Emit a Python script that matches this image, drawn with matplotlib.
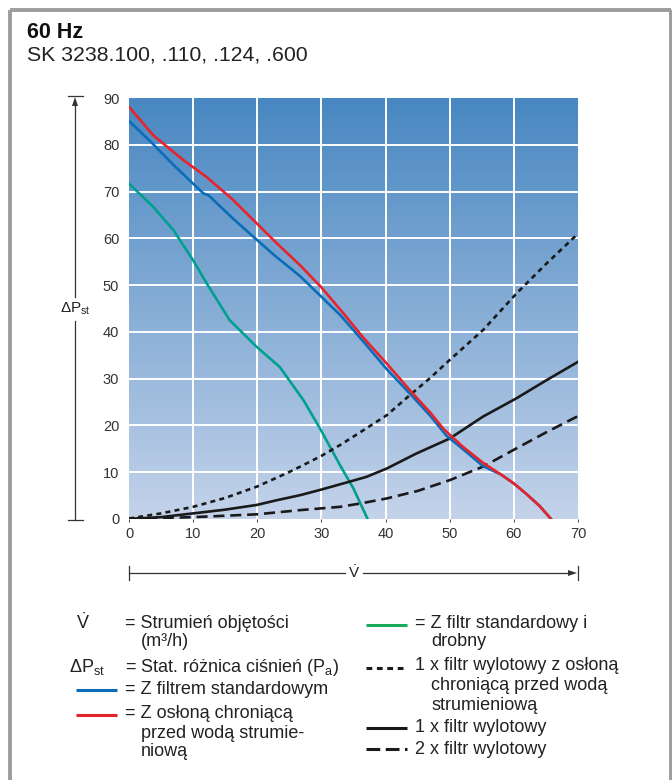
import numpy as np
import matplotlib
matplotlib.use("Agg")
import matplotlib.pyplot as plt
from matplotlib.lines import Line2D
from matplotlib.patches import Polygon

plt.rcParams['font.family'] = ['Liberation Sans', 'DejaVu Sans']
plt.rcParams['mathtext.fontset'] = 'custom'
plt.rcParams['mathtext.rm'] = 'Liberation Sans'
plt.rcParams['mathtext.it'] = 'Liberation Sans:italic'
plt.rcParams['mathtext.bf'] = 'Liberation Sans:bold'

# ---------------- data ----------------
title = "60 Hz"
subtitle = "SK 3238.100, .110, .124, .600"
x_ticks = [0, 10, 20, 30, 40, 50, 60, 70]
y_ticks = [0, 10, 20, 30, 40, 50, 60, 70, 80, 90]

blue_x = [0, 3.5, 7, 11.6, 12.4, 16, 19.4, 23, 26.6, 30, 33, 36.5, 40.2, 44, 47, 49.5, 52, 55.2, 58, 60, 62, 64, 65.8]
blue_y = [85.1, 80.5, 75.6, 69.6, 69.2, 64.5, 60.3, 56.0, 52.0, 47.5, 43.5, 38.0, 32.0, 26.5, 22.0, 17.8, 15.0, 11.3, 9.5, 7.6, 5.3, 2.8, 0]

red_x = [0, 3.8, 8.5, 12.1, 16, 19.4, 23, 26.7, 30, 33.4, 36.5, 40.2, 44, 47, 49, 52, 55.2, 58, 60, 62, 64, 65.8]
red_y = [88.1, 82.0, 76.7, 73.1, 68.5, 63.9, 59.0, 54.2, 49.5, 44.0, 38.8, 33.2, 27.2, 22.7, 19.3, 15.5, 12.0, 9.5, 7.6, 5.3, 2.8, 0]

green_x = [0, 3.8, 6.9, 10, 12.1, 15.7, 19.9, 23.5, 27.2, 29.8, 32.9, 35, 37.2]
green_y = [71.7, 66.7, 61.8, 55.3, 50.4, 42.5, 36.8, 32.5, 25.4, 19.3, 11.5, 6.5, 0]

dotted_x = [0, 5, 10, 15, 19.9, 24.6, 26.7, 30, 32.9, 36, 40.2, 43.8, 47, 50, 55.2, 60.4, 65, 70]
dotted_y = [0.1, 1.2, 2.6, 4.5, 6.9, 9.8, 11.2, 13.5, 15.8, 18.5, 22.2, 26.5, 30.2, 34.0, 40.4, 48.2, 54.5, 61.0]

solid_x = [0, 5, 10, 15, 19.9, 23, 26.7, 30, 33.4, 37, 40.2, 44.8, 50, 55.2, 60.4, 65, 70]
solid_y = [0, 0.4, 1.2, 2.0, 3.0, 4.0, 5.1, 6.3, 7.6, 9.0, 10.8, 14.0, 17.2, 21.9, 25.8, 29.6, 33.6]

dashed_x = [0, 5, 10, 15, 19.9, 26.7, 32.9, 36, 40.2, 45, 50, 55.2, 60.4, 65, 70]
dashed_y = [0, 0.2, 0.4, 0.7, 1.0, 1.9, 2.6, 3.3, 4.4, 6.0, 8.3, 11.2, 15.1, 18.5, 22.0]

# ---------------- figure ----------------
W, H = 672, 780
fig = plt.figure(figsize=(W / 100, H / 100), dpi=100)
fig.patch.set_facecolor('white')

def P(x, y):
    return (x / W, 1 - y / H)

# grey frame (left, top, right)
frame_c = '#9d9d9d'
for xs, ys in [((9.5, 9.5), (9.5, 790)), ((9.5, 670.5), (9.5, 9.5)), ((670.5, 670.5), (9.5, 790))]:
    fig.add_artist(Line2D([x / W for x in xs], [1 - y / H for y in ys], color=frame_c, lw=2.8,
                          solid_capstyle='butt'))

# titles
fig.text(*P(27, 32), title, fontsize=15.5, fontweight='bold', va='center', ha='left', color='#111111')
fig.text(*P(27, 55), subtitle, fontsize=15.3, va='center', ha='left', color='#222222')

# axes
ax_l, ax_r, ax_t, ax_b = 129, 578, 98, 519
ax = fig.add_axes([ax_l / W, 1 - ax_b / H, (ax_r - ax_l) / W, (ax_b - ax_t) / H])
ax.set_xlim(0, 70)
ax.set_ylim(0, 90)

top_c = np.array([72, 135, 193]) / 255
bot_c = np.array([196, 211, 234]) / 255
t = np.linspace(0, 1, 256)[:, None]
grad = top_c[None, :] * (1 - t) + bot_c[None, :] * t
grad = grad[:, None, :]
ax.imshow(grad, extent=[0, 70, 0, 90], aspect='auto', origin='upper', zorder=0)

for gx in x_ticks[1:-1]:
    ax.axvline(gx, color='white', lw=1.4, zorder=1)
for gy in y_ticks[1:-1]:
    ax.axhline(gy, color='white', lw=1.4, zorder=1)

for s in ax.spines.values():
    s.set_visible(False)
ax.set_xticks(x_ticks)
ax.set_yticks(y_ticks)
ax.tick_params(axis='x', length=2, width=0.8, color='#555555', pad=4, labelsize=10.5, labelcolor='#333333')
ax.tick_params(axis='y', length=0, pad=7, labelsize=10.5, labelcolor='#333333')

lw = 1.9
ax.plot(green_x, green_y, color='#00a08f', lw=lw, zorder=3)
ax.plot(dotted_x, dotted_y, color='#1a1a1a', lw=lw, ls=(0, (1.9, 1.6)), zorder=3)
ax.plot(solid_x, solid_y, color='#1a1a1a', lw=lw, zorder=3)
ax.plot(dashed_x, dashed_y, color='#1a1a1a', lw=lw, ls=(0, (4.2, 2.2)), zorder=3)
ax.plot(blue_x, blue_y, color='#0a6db9', lw=lw, zorder=4)
ax.plot(red_x, red_y, color='#e8232c', lw=lw, zorder=5)

# ---------------- dimension arrows ----------------
ac = '#333333'
def line(xs, ys, lw_=0.9):
    fig.add_artist(Line2D([x / W for x in xs], [1 - y / H for y in ys], color=ac, lw=lw_))

def head(pts):
    fig.add_artist(Polygon([P(x, y) for x, y in pts], closed=True, color=ac, lw=0, transform=fig.transFigure))

# vertical ΔPst arrow
vx = 75
line([68, 83], [96, 96])
line([68, 83], [519.5, 519.5])
line([vx, vx], [104, 297])
line([vx, vx], [321, 519.5])
head([(vx, 97), (vx - 3, 106), (vx + 3, 106)])
fig.text(*P(vx, 309), 'ΔP$_\\mathregular{st}$', fontsize=11, ha='center', va='center', color='#222222')

# horizontal V arrow
hy = 573
line([129, 129], [566, 580])
line([578, 578], [566, 580])
line([129, 345], [hy, hy])
line([363, 570], [hy, hy])
head([(577, hy), (568, hy - 3), (568, hy + 3)])
fig.text(*P(354, hy), r'$\dot{\mathrm{V}}$', fontsize=11, ha='center', va='center', color='#222222')

# ---------------- legend ----------------
fs = 13
tc = '#222222'
def txt(x, y, s, **kw):
    fig.text(*P(x, y), s, fontsize=fs, ha='left', va='center', color=tc, **kw)

def swatch(x0, x1, y, color, ls='-'):
    fig.add_artist(Line2D([x0 / W, x1 / W], [1 - y / H, 1 - y / H], color=color, lw=2.2, ls=ls,
                          solid_capstyle='butt', dash_capstyle='butt'))

txt(76, 623, r'$\dot{\mathrm{V}}$')
txt(125, 623, '= Strumień objętości')
txt(141, 642, '(m³/h)')
txt(69, 667, 'ΔP$_\\mathregular{st}$')
txt(125, 667, '= Stat. różnica ciśnień (P$_\\mathregular{a}$)')
swatch(76, 117, 690, '#0a6db9')
txt(125, 689, '= Z filtrem standardowym')
swatch(76, 117, 715, '#e8232c')
txt(125, 713, '= Z osłoną chroniącą')
txt(141, 733, 'przed wodą strumie-')
txt(141, 752, 'niową')

swatch(366, 407, 625, '#1aaa5a')
txt(415, 623, '= Z filtr standardowy i')
txt(431, 642, 'drobny')
swatch(366, 407, 668, '#1a1a1a', ls=(0, (1.9, 1.5)))
txt(415, 666, '1 x filtr wylotowy z osłoną')
txt(431, 686, 'chroniącą przed wodą')
txt(431, 705, 'strumieniową')
swatch(366, 407, 728, '#1a1a1a')
txt(415, 727, '1 x filtr wylotowy')
swatch(366, 407, 749, '#1a1a1a', ls=(0, (4.5, 1.8)))
txt(415, 749, '2 x filtr wylotowy')

fig.savefig('out.png', dpi=100, facecolor='white')
